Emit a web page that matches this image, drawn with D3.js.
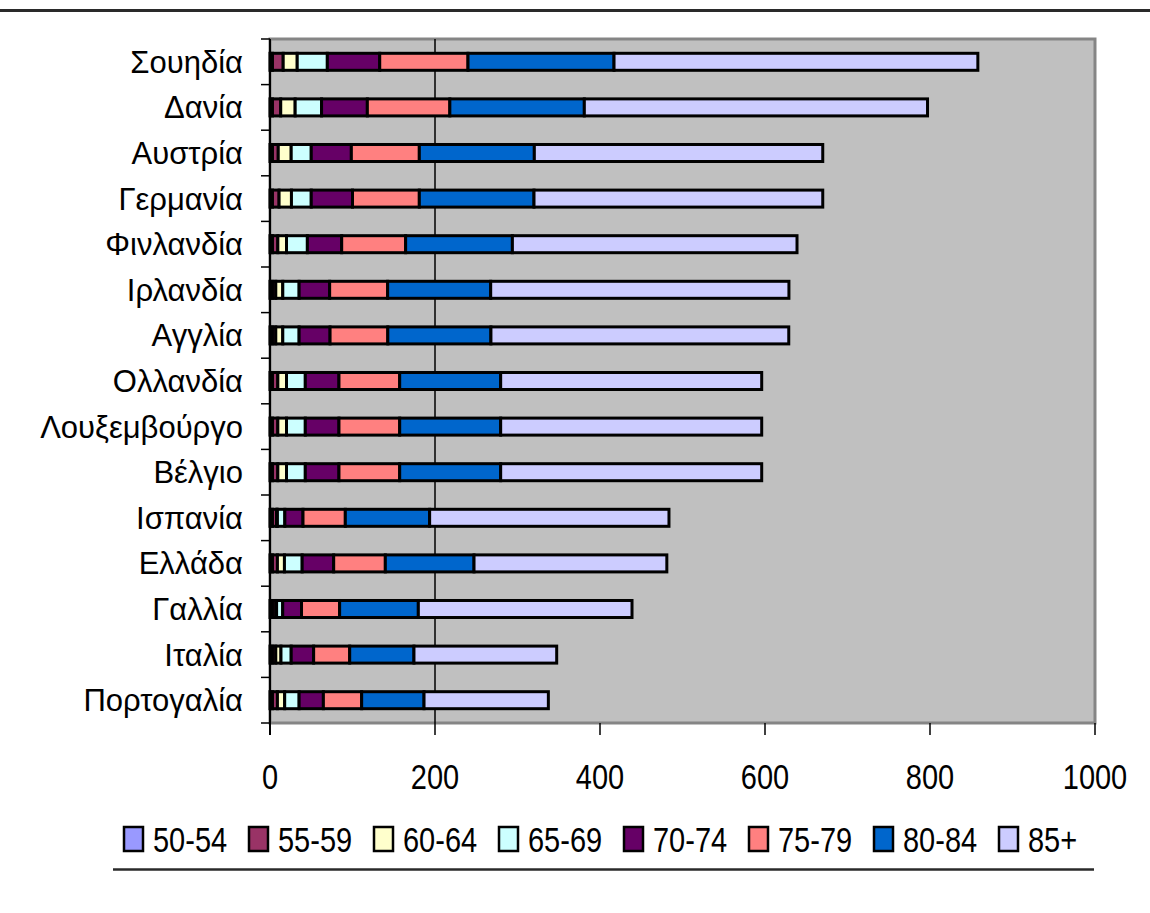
<!DOCTYPE html>
<html>
<head>
<meta charset="utf-8">
<script src="https://cdn.jsdelivr.net/npm/d3@7/dist/d3.min.js"></script>
<style>
  html, body { margin: 0; padding: 0; background: #ffffff; }
  svg { display: block; }
  text { font-family: "Liberation Sans", Arial, sans-serif; fill: #000; }
</style>
</head>
<body>
<svg id="chart" width="1150" height="913"></svg>
<script>
// Countries, top to bottom
const categories = ["Σουηδία", "Δανία", "Αυστρία", "Γερμανία", "Φινλανδία", "Ιρλανδία", "Αγγλία",
  "Ολλανδία", "Λουξεμβούργο", "Βέλγιο", "Ισπανία", "Ελλάδα", "Γαλλία", "Ιταλία", "Πορτογαλία"];

// Age groups (stack order, left to right)
const ageGroups = ["50-54", "55-59", "60-64", "65-69", "70-74", "75-79", "80-84", "85+"];

// Values per age group, in country order
const s50_54 = [3, 3, 3, 3, 3, 3, 3, 3, 3, 3, 3, 3, 3, 3, 3];
const s55_59 = [13, 10, 7, 8, 6.5, 4, 4, 6.5, 6.5, 6.5, 5, 6, 4, 4, 6];
const s60_64 = [17, 17.5, 15.7, 15, 10.5, 8.5, 8.5, 10.5, 10.5, 10.5, 1, 8.5, 1, 6.3, 8.8];
const s65_69 = [36.5, 32, 24.3, 24, 25.3, 19.8, 19.8, 22.8, 22.8, 22.8, 9, 21.5, 7.4, 12.4, 17.5];
const s70_74 = [63.5, 55.5, 48.6, 50, 41.6, 37, 37.5, 40.8, 40.8, 40.8, 22, 38.2, 22.8, 27.2, 29.4];
const s75_79 = [107, 100, 82.4, 81, 77.5, 70.3, 70, 73.6, 73.6, 73.6, 51.3, 62.6, 46.2, 43.7, 46.4];
const s80_84 = [177, 163, 139.4, 139, 129.4, 124.9, 125, 122.4, 122.4, 122.4, 102.2, 107.5, 95.4, 77.9, 75.6];
const s85plus = [441, 416, 349.6, 350, 345, 361.5, 361, 316.4, 316.4, 316.4, 290.1, 233.7, 259, 173, 150.7];

// Axis ticks and gridlines
const xTicks = [0, 200, 400, 600, 800, 1000];
const gridValues = [200];

const seriesValues = [s50_54, s55_59, s60_64, s65_69, s70_74, s75_79, s80_84, s85plus];
const colors = ["#9999FF", "#993366", "#FFFFCC", "#CCFFFF", "#660066", "#FF8080", "#0066CC", "#CCCCFF"];

// Build a row table for d3.stack
const table = categories.map((c, i) => {
  const row = { country: c };
  ageGroups.forEach((g, j) => { row[g] = seriesValues[j][i]; });
  return row;
});

const svg = d3.select("#chart");

const plot = { left: 270, right: 1095, top: 39, bottom: 723 };

const x = d3.scaleLinear().domain([0, 1000]).range([plot.left, plot.right]);
const y = d3.scaleBand().domain(categories).range([plot.top, plot.bottom])
  .paddingInner(0.627).paddingOuter(0.3135);
const color = d3.scaleOrdinal().domain(ageGroups).range(colors);

// Top rule
svg.append("line").attr("x1", 0).attr("x2", 1150).attr("y1", 10.5).attr("y2", 10.5)
  .attr("stroke", "#2a2a2a").attr("stroke-width", 3);

// Plot area
svg.append("rect")
  .attr("x", plot.left).attr("y", plot.top)
  .attr("width", plot.right - plot.left).attr("height", plot.bottom - plot.top)
  .attr("fill", "#C0C0C0").attr("stroke", "#858585").attr("stroke-width", 3);

// Gridlines
svg.append("g").selectAll("line").data(gridValues).join("line")
  .attr("x1", d => x(d)).attr("x2", d => x(d))
  .attr("y1", plot.top).attr("y2", plot.bottom)
  .attr("stroke", "#000").attr("stroke-width", 1.5);

// Stacked bars
const stacked = d3.stack().keys(ageGroups)(table);
svg.append("g").selectAll("g").data(stacked).join("g")
  .attr("fill", d => color(d.key))
  .selectAll("rect").data(d => d).join("rect")
  .attr("x", d => x(d[0]))
  .attr("y", d => y(d.data.country))
  .attr("width", d => x(d[1]) - x(d[0]))
  .attr("height", y.bandwidth())
  .attr("stroke", "#000").attr("stroke-width", 3);

// Category axis (left)
const yAxis = svg.append("g").attr("transform", `translate(${plot.left},0)`);
yAxis.append("line").attr("x1", 0).attr("x2", 0)
  .attr("y1", plot.top).attr("y2", plot.bottom + 12)
  .attr("stroke", "#000").attr("stroke-width", 2);
const boundaries = d3.range(categories.length + 1).map(i => plot.top + i * y.step());
yAxis.selectAll("line.tick").data(boundaries).join("line").attr("class", "tick")
  .attr("x1", -9).attr("x2", 0).attr("y1", d => d).attr("y2", d => d)
  .attr("stroke", "#000").attr("stroke-width", 1.5);
yAxis.selectAll("text").data(categories).join("text")
  .attr("text-anchor", "end")
  .attr("transform", d => `translate(-27,${y(d) + y.bandwidth() / 2 + 11})`)
  .style("font-size", "31px")
  .text(d => d);

// Value axis (bottom)
const xAxis = svg.append("g");
xAxis.selectAll("line").data(xTicks).join("line")
  .attr("x1", d => x(d)).attr("x2", d => x(d))
  .attr("y1", plot.bottom).attr("y2", plot.bottom + 12)
  .attr("stroke", "#000").attr("stroke-width", 1.5);
xAxis.selectAll("text").data(xTicks).join("text")
  .attr("text-anchor", "middle")
  .attr("transform", d => `translate(${x(d)},788.5) scale(1,1.2)`)
  .style("font-size", "29px")
  .text(d => d);

// Legend
const legend = svg.append("g");
const item = legend.selectAll("g").data(ageGroups).join("g")
  .attr("transform", (d, i) => `translate(${124 + i * 125},827)`);
item.append("rect").attr("width", 19).attr("height", 24)
  .attr("fill", d => color(d)).attr("stroke", "#000").attr("stroke-width", 2.5);
item.append("text")
  .attr("transform", "translate(29,25) scale(1,1.2)")
  .style("font-size", "29px")
  .text(d => d);

// Bottom rule
svg.append("line").attr("x1", 113).attr("x2", 1094).attr("y1", 869.5).attr("y2", 869.5)
  .attr("stroke", "#2a2a2a").attr("stroke-width", 2.5);
</script>
</body>
</html>
